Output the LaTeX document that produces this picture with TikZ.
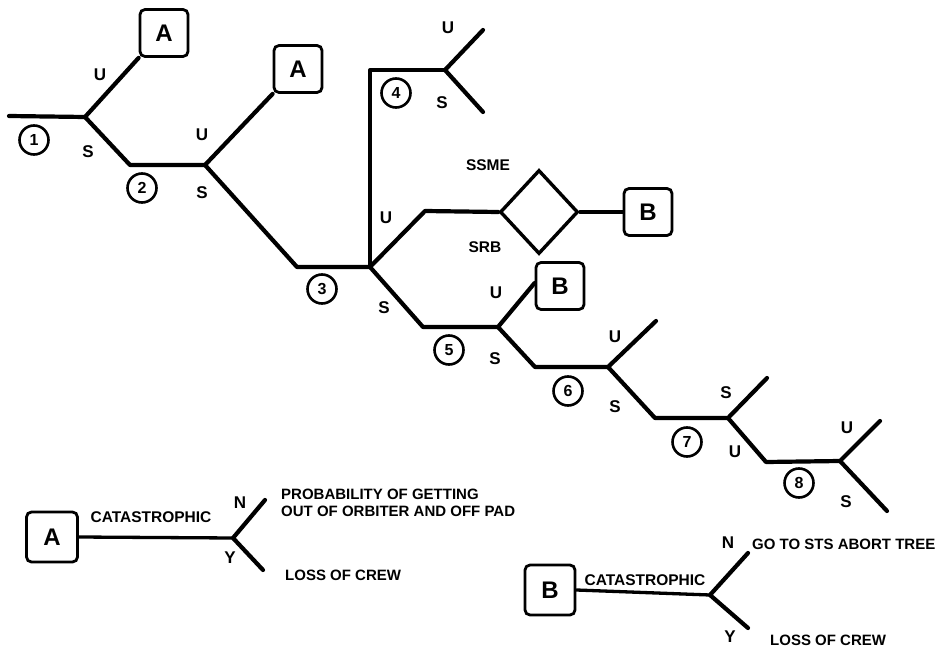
\documentclass[tikz,border=0pt]{standalone}
\usepackage{fontspec}
\setmainfont{Liberation Sans}
\usetikzlibrary{shapes.geometric}
\begin{document}
\begin{tikzpicture}[x=1pt,y=-1pt,
  branch/.style={line width=4.2pt,line cap=round,line join=round},
  thinbranch/.style={line width=3.3pt,line cap=round,line join=round},
  endbox/.style={draw,line width=2.8pt,rounded corners=5pt,minimum width=48pt,minimum height=47pt,inner sep=0pt,font=\fontsize{24}{26}\selectfont\bfseries},
  phase/.style={draw,circle,line width=2.6pt,minimum size=29pt,inner sep=0pt,font=\fontsize{16}{17}\selectfont\bfseries},
  lbl/.style={inner sep=0pt,font=\fontsize{17}{18}\selectfont\bfseries},
  tag/.style={inner sep=0pt,font=\fontsize{15.5}{17}\selectfont\bfseries},
  txt/.style={inner sep=0pt,anchor=west,font=\fontsize{15}{17}\selectfont\bfseries},
  gate/.style={draw,diamond,line width=3.4pt,minimum width=78pt,minimum height=84pt,inner sep=0pt}]
\useasboundingbox (0,0) rectangle (945,647);

% event tree junctions and bends
\coordinate (s1) at (9,116);
\coordinate (j1) at (85,117);
\coordinate (b12) at (130,165);
\coordinate (j2) at (205,165);
\coordinate (b23) at (297,267);
\coordinate (j3) at (370,267);
\coordinate (c4) at (370,70);
\coordinate (j4) at (445,70);
\coordinate (e4u) at (483,30);
\coordinate (e4s) at (483,112);
\coordinate (b3u) at (425,211);
\coordinate (b35) at (423,327);
\coordinate (j5) at (498,327);
\coordinate (b56) at (535,367);
\coordinate (j6) at (608,367);
\coordinate (e6u) at (656,321);
\coordinate (b67) at (655,418);
\coordinate (j7) at (728,418);
\coordinate (e7s) at (767,378);
\coordinate (b78) at (766,462);
\coordinate (j8) at (840,461);
\coordinate (e8u) at (880,421);
\coordinate (e8s) at (887,511);

% end states and gate
\node[endbox] (a1) at (164,33) {A};
\node[endbox] (a2) at (298,69) {A};
\node[gate] (g) at (539,212) {};
\node[endbox] (bb1) at (648,212) {B};
\node[endbox] (bb2) at (560,286) {B};

% branches
\draw[branch] (s1) -- (j1) -- (a1.south west);
\draw[branch] (j1) -- (b12) -- (j2) -- (a2.south west);
\draw[branch] (j2) -- (b23) -- (j3);
\draw[thinbranch] (j3) -- (c4) -- (j4);
\draw[branch] (e4u) -- (j4) -- (e4s);
\draw[branch] (j3) -- (b3u) -- (g.west);
\draw[thinbranch] (g.east) -- (bb1.west);
\draw[branch] (j3) -- (b35) -- (j5) -- ([yshift=3pt]bb2.west);
\draw[branch] (j5) -- (b56) -- (j6) -- (e6u);
\draw[branch] (j6) -- (b67) -- (j7) -- (e7s);
\draw[branch] (j7) -- (b78) -- (j8) -- (e8u);
\draw[branch] (j8) -- (e8s);

% phase numbers
\node[phase] (p1) at (34,140) {1};
\node[phase] (p2) at (142,188) {2};
\node[phase] (p3) at (322,289) {3};
\node[phase] (p4) at (396,93) {4};
\node[phase] (p5) at (449,350) {5};
\node[phase] (p6) at (568,391) {6};
\node[phase] (p7) at (687,442) {7};
\node[phase] (p8) at (799,483) {8};

% branch labels
\node[lbl] (u1) at (100,75) {U};
\node[lbl] (s1l) at (88,152) {S};
\node[lbl] (u2) at (202,135) {U};
\node[lbl] (s2) at (202,193) {S};
\node[lbl] (u4) at (448,28) {U};
\node[lbl] (s4) at (442,103) {S};
\node[tag] (ssme) at (488,165) {SSME};
\node[tag] (srb) at (485,247) {SRB};
\node[lbl] (u3) at (386,218) {U};
\node[lbl] (s3) at (384,308) {S};
\node[lbl] (u5) at (496,293) {U};
\node[lbl] (s5) at (495,359) {S};
\node[lbl] (u6) at (615,337) {U};
\node[lbl] (s6) at (615,407) {S};
\node[lbl] (s7) at (726,393) {S};
\node[lbl] (u7) at (735,452) {U};
\node[lbl] (u8) at (847,428) {U};
\node[lbl] (s8) at (846,502) {S};

% legend A
\node[endbox,minimum width=51pt,minimum height=50pt] (la) at (52,537) {A};
\coordinate (ja) at (233,538);
\coordinate (na) at (265,500);
\coordinate (ya) at (263,570);
\draw[thinbranch] (la.east) -- (ja);
\draw[branch] (na) -- (ja) -- (ya);
\node[tag] (cata) at (151,517) {CATASTROPHIC};
\node[lbl] (nA) at (240,503) {N};
\node[lbl] (yA) at (230,558) {Y};
\node[txt] (prob1) at (281,494) {PROBABILITY OF GETTING};
\node[txt] (prob2) at (281,511) {OUT OF ORBITER AND OFF PAD};
\node[txt] (lossA) at (285,575) {LOSS OF CREW};

% legend B
\node[endbox,minimum width=50pt,minimum height=50pt] (lb) at (550,590) {B};
\coordinate (jb) at (710,595);
\coordinate (nb) at (748,553);
\coordinate (yb) at (748,628);
\draw[thinbranch] (lb.east) -- (jb);
\draw[branch] (nb) -- (jb) -- (yb);
\node[tag] (catb) at (645,580) {CATASTROPHIC};
\node[lbl] (nB) at (728,543) {N};
\node[lbl] (yB) at (730,637) {Y};
\node[txt] (abort) at (752,544) {GO TO STS ABORT TREE};
\node[txt] (lossB) at (770,640) {LOSS OF CREW};
\end{tikzpicture}
\end{document}
